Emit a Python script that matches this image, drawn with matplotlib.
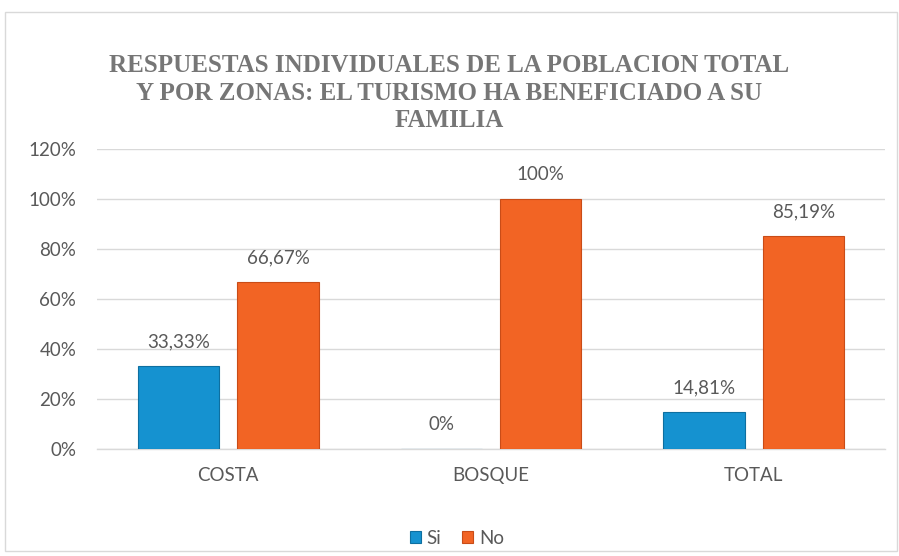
import matplotlib
matplotlib.use("Agg")
import matplotlib.pyplot as plt
import numpy as np
from matplotlib.patches import Rectangle

categories = ["COSTA", "BOSQUE", "TOTAL"]
si_values = [0.3333, 0.0, 0.1481]
no_values = [0.6667, 1.0, 0.8519]
series_names = ["Si", "No"]
y_ticks = [0, 0.2, 0.4, 0.6, 0.8, 1.0, 1.2]
title = ("RESPUESTAS INDIVIDUALES DE LA POBLACION TOTAL\n"
         "Y POR ZONAS: EL TURISMO HA BENEFICIADO A SU\nFAMILIA")

BLUE = "#1592D0"
ORANGE = "#F26424"
GRAY_TXT = "#595959"
GRID = "#D9D9D9"
SANS = ["Lato", "DejaVu Sans"]


def fmt(v):
    s = f"{v*100:.2f}".rstrip("0").rstrip(".")
    return s.replace(".", ",") + "%"


fig = plt.figure(figsize=(8.99, 5.56), dpi=100)
W, H = 899, 556
# outer chart border
fig.patches.append(Rectangle((5 / W, 5 / H), 892 / W, 539 / H, transform=fig.transFigure,
                             fill=False, edgecolor="#D9D9D9", linewidth=1.0))

ax = fig.add_axes([97 / W, (556 - 449) / H, (885 - 97) / W, 300 / H])
x = np.arange(len(categories))
bw = 0.31
gap = 0.068
off = (bw + gap) / 2

ax.set_ylim(0, 1.2)
ax.set_xlim(-0.5, len(categories) - 0.5)
ax.set_yticks(y_ticks)
ax.set_yticklabels([f"{int(round(t*100))}%" for t in y_ticks])
ax.yaxis.grid(True, color=GRID, linewidth=1.0)
ax.set_axisbelow(True)
for s in ["top", "right", "left"]:
    ax.spines[s].set_visible(False)
ax.spines["bottom"].set_color(GRID)
ax.spines["bottom"].set_linewidth(1.0)
ax.tick_params(axis="both", length=0, colors=GRAY_TXT, labelsize=13.5)
ax.tick_params(axis="y", pad=15)
ax.tick_params(axis="x", pad=13)
ax.set_xticks(x)
ax.set_xticklabels(categories)
for lab in ax.get_xticklabels() + ax.get_yticklabels():
    lab.set_family(SANS)

b1 = ax.bar(x - off, si_values, bw, color=BLUE, edgecolor="#0E6FA0", linewidth=0.8,
            label=series_names[0], zorder=3)
b2 = ax.bar(x + off, no_values, bw, color=ORANGE, edgecolor="#C94C17", linewidth=0.8,
            label=series_names[1], zorder=3)

for bars, vals in [(b1, si_values), (b2, no_values)]:
    for r, v in zip(bars, vals):
        ax.annotate(fmt(v), (r.get_x() + r.get_width() / 2, v), xytext=(0, 24),
                    textcoords="offset pixels", ha="center", va="center",
                    fontsize=13.5, color=GRAY_TXT, family=SANS)

fig.text(0.5, 1 - 93 / H, title, ha="center", va="center", fontsize=18,
         fontweight="bold", family=["Liberation Serif", "DejaVu Serif"],
         color="#767676", linespacing=1.25)

leg = fig.legend(handles=[b1, b2], loc="center", bbox_to_anchor=(0.508, 1 - 538 / H),
                 ncol=2, frameon=False, fontsize=13.5, handlelength=0.6,
                 handleheight=0.6, handletextpad=0.3, columnspacing=1.1)
for t in leg.get_texts():
    t.set_color(GRAY_TXT)
    t.set_family(SANS)

fig.savefig("out.png", dpi=100)
